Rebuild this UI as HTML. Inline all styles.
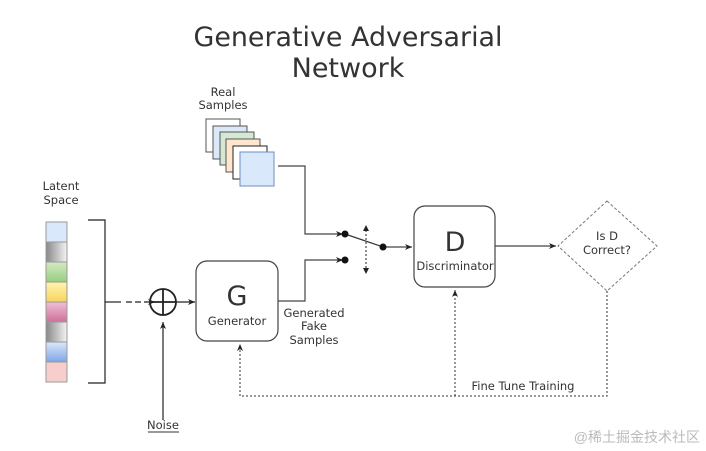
<!DOCTYPE html>
<html><head><meta charset="utf-8"><style>
html,body{margin:0;padding:0;background:#fff;}
svg{display:block;font-family:"DejaVu Sans","Liberation Sans",sans-serif;}
</style></head><body>
<svg width="706" height="451" viewBox="0 0 706 451" xmlns="http://www.w3.org/2000/svg">
<defs>
<marker id="a" markerWidth="8" markerHeight="8" refX="7" refY="4" orient="auto" markerUnits="userSpaceOnUse"><path d="M0,1 L7,4 L0,7 L2,4 Z" fill="#222"/></marker>
<linearGradient id="g1" x1="0" x2="1"><stop offset="0" stop-color="#888"/><stop offset="1" stop-color="#f4f4f4"/></linearGradient>
<linearGradient id="g2" x1="0" y1="0" x2="0" y2="1"><stop offset="0" stop-color="#d5e8c4"/><stop offset="1" stop-color="#97cf7e"/></linearGradient>
<linearGradient id="g3" x1="0" y1="0" x2="0" y2="1"><stop offset="0" stop-color="#fff2b0"/><stop offset="1" stop-color="#f7d55e"/></linearGradient>
<linearGradient id="g4" x1="0" y1="0" x2="0" y2="1"><stop offset="0" stop-color="#eec0d4"/><stop offset="1" stop-color="#d0709a"/></linearGradient>
<linearGradient id="g5" x1="0" y1="0" x2="0" y2="1"><stop offset="0" stop-color="#dbe7fa"/><stop offset="1" stop-color="#7ea6e6"/></linearGradient>
</defs>
<rect width="706" height="451" fill="#fff"/>
<g fill="#333" font-size="27" text-anchor="middle">
<text x="348" y="46" textLength="309" lengthAdjust="spacingAndGlyphs">Generative Adversarial</text>
<text x="348" y="77">Network</text>
</g>
<g fill="#333" font-size="11.5" text-anchor="middle">
<text x="223" y="96">Real</text><text x="223" y="109">Samples</text>
<text x="61" y="190">Latent</text><text x="61" y="204">Space</text>
<text x="314" y="317">Generated</text><text x="314" y="330">Fake</text><text x="314" y="344">Samples</text>
<text x="163" y="429">Noise</text>
<text x="607" y="240">Is D</text><text x="607" y="254">Correct?</text>
<text x="523" y="390">Fine Tune Training</text>
</g>
<line x1="148" y1="432" x2="179" y2="432" stroke="#333" stroke-width="1"/>
<!-- real sample stack -->
<g stroke="#555" stroke-width="1">
<rect x="206" y="119" width="34" height="33" fill="#fff"/>
<rect x="213" y="126" width="34" height="33" fill="#dbe8f8"/>
<rect x="220" y="132" width="34" height="33" fill="#d5e8d4"/>
<rect x="226" y="139" width="34" height="33" fill="#ffe6cc"/>
<rect x="233" y="146" width="34" height="33" fill="#fff" stroke="#222"/>
<rect x="240" y="152" width="34" height="34" fill="#dae8fc" stroke="#6c8ebf"/>
</g>
<!-- latent -->
<g stroke="#999" stroke-width="1">
<rect x="46" y="222" width="21" height="20" fill="#dae8fc"/>
<rect x="46" y="242" width="21" height="20" fill="url(#g1)"/>
<rect x="46" y="262" width="21" height="20" fill="url(#g2)"/>
<rect x="46" y="282" width="21" height="20" fill="url(#g3)"/>
<rect x="46" y="302" width="21" height="20" fill="url(#g4)"/>
<rect x="46" y="322" width="21" height="20" fill="url(#g1)"/>
<rect x="46" y="342" width="21" height="20" fill="url(#g5)"/>
<rect x="46" y="362" width="21" height="20" fill="#f8cecc"/>
</g>
<g fill="none" stroke="#222" stroke-width="1.2">
<path d="M88,220 H105 V383 H88"/>
<path d="M105,302 H121"/>
<path d="M126,302 H155" stroke-dasharray="6,3" marker-end="url(#a)"/>
<circle cx="163" cy="302" r="13" stroke-width="1.8"/>
<path d="M150,302 H176 M163,289 V315" stroke-width="1.8"/>
<path d="M176,302 H195" marker-end="url(#a)"/>
<path d="M163,420 V322" marker-end="url(#a)"/>
<rect x="196" y="261" width="82" height="80" rx="11" stroke="#444"/>
<rect x="414" y="206" width="81" height="81" rx="11" stroke="#444"/>
<path d="M278,301 H305 V260 H343" stroke="#444" marker-end="url(#a)"/>
<path d="M278,166 H305 V234 H343" stroke="#444" marker-end="url(#a)"/>
<path d="M345,234 L383,247" stroke="#333"/>
<path d="M383,247 H412" stroke="#444" marker-end="url(#a)"/>
<path d="M495,246 H556" stroke="#444" marker-end="url(#a)"/>
<path d="M366,234 V272 M366,240 V228" stroke-dasharray="2,2" stroke-width="1"/>
<path d="M363,231 L366,225 L369,231 Z M363,268 L366,274 L369,268 Z" fill="#222" stroke="none"/>
<path d="M607,201 L657,246 L607,291 L558,246 Z" stroke="#777" stroke-dasharray="3,2" stroke-width="1"/>
<path d="M607,291 V396 H240 V344" stroke="#333" stroke-dasharray="2,2" stroke-width="1" marker-end="url(#a)"/>
<path d="M455,396 V290" stroke="#333" stroke-dasharray="2,2" stroke-width="1" marker-end="url(#a)"/>
</g>
<g fill="#111"><circle cx="345" cy="234" r="3.5"/><circle cx="345" cy="260" r="3.5"/><circle cx="383" cy="247" r="3.5"/></g>
<g fill="#333" text-anchor="middle">
<text x="237" y="305" font-size="27">G</text>
<text x="237" y="325" font-size="11.5">Generator</text>
<text x="455" y="251" font-size="27">D</text>
<text x="455" y="270" font-size="11.5">Discriminator</text>
</g>
<text x="700" y="442" text-anchor="end" font-size="14" fill="#bbb" font-family="'Liberation Sans','Noto Sans CJK SC',sans-serif">@稀土掘金技术社区</text>
</svg>
</body></html>
